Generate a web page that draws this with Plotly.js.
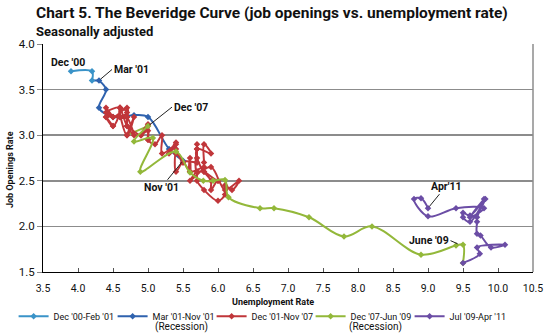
<!DOCTYPE html>
<html>
<head>
<meta charset="utf-8">
<script src="https://cdn.plot.ly/plotly-3.0.1.min.js"></script>
<style>html,body{margin:0;padding:0;background:#fff;}#chart{width:550px;height:336px;}</style>
</head>
<body>
<div id="chart"></div>
<script>
// Series names (legend)
const seriesNames = ["Dec '00-Feb '01", "Mar '01-Nov '01", "Dec '01-Nov '07", "Dec '07-Jun '09", "Jul '09-Apr '11"];
const seriesColors = ["#3A93C8", "#2F62AE", "#C0363A", "#93B83A", "#6B4DA5"];

// Dec '00 - Feb '01
const u1 = [3.9, 4.2, 4.2];
const j1 = [3.7, 3.7, 3.6];

// Mar '01 - Nov '01 (Recession)
const u2 = [4.3, 4.4, 4.3, 4.5, 4.6, 4.8, 5.0, 5.3, 5.5];
const j2 = [3.6, 3.5, 3.3, 3.2, 3.2, 3.22, 3.2, 2.85, 2.72];

// Dec '01 - Nov '07
const u3 = [5.7,
  5.7, 5.7, 5.7, 5.9, 5.8, 5.8, 5.8, 5.7, 5.7, 5.7, 5.9, 6.0,
  5.8, 5.9, 5.9, 6.0, 6.1, 6.3, 6.2, 6.1, 6.1, 6.0, 5.8, 5.7,
  5.7, 5.6, 5.8, 5.6, 5.6, 5.6, 5.5, 5.4, 5.4, 5.5, 5.4, 5.4,
  5.3, 5.4, 5.2, 5.2, 5.1, 5.0, 5.0, 4.9, 5.0, 5.0, 5.0, 4.9,
  4.7, 4.8, 4.7, 4.7, 4.6, 4.6, 4.7, 4.7, 4.5, 4.4, 4.5, 4.4,
  4.6, 4.5, 4.4, 4.5, 4.4, 4.6, 4.7, 4.6, 4.7, 4.8, 4.7];
const j3 = [2.7,
  2.9, 2.7, 2.85, 2.8, 2.9, 2.7, 2.6, 2.75, 2.85, 2.6, 2.65, 2.5,
  2.6, 2.5, 2.4, 2.5, 2.4, 2.5, 2.4, 2.45, 2.35, 2.28, 2.4, 2.5,
  2.6, 2.5, 2.65, 2.6, 2.75, 2.6, 2.7, 2.6, 2.8, 2.7, 2.85, 2.92,
  2.8, 2.9, 2.8, 3.0, 2.9, 2.95, 3.05, 3.0, 3.12, 2.95, 3.1, 3.0,
  3.1, 3.0, 3.2, 3.1, 3.3, 3.2, 3.2, 3.3, 3.2, 3.3, 3.2, 3.25,
  3.3, 3.1, 3.2, 3.1, 3.2, 3.2, 3.25, 3.3, 3.0, 3.2, 3.0];

// Dec '07 - Jun '09 (Recession)
const u4 = [5.0, 4.8, 5.07, 4.89, 5.4, 5.6, 5.79, 5.93, 6.1, 6.15, 6.6, 6.8, 7.3, 7.8, 8.2, 8.9, 9.4, 9.5, 9.5];
const j4 = [3.1, 2.93, 2.97, 2.6, 2.82, 2.59, 2.5, 2.5, 2.51, 2.32, 2.2, 2.2, 2.1, 1.89, 2.0, 1.69, 1.79, 1.8, 1.6];

// Jul '09 - Apr '11
const u5 = [9.5, 9.74, 9.7, 10.1, 9.9, 9.75, 9.7, 9.7, 9.7, 9.82, 9.6, 9.5, 9.5, 9.6, 9.8, 9.6, 9.8, 9.4, 9.0, 8.8, 8.9, 9.0];
const j5 = [1.6, 1.7, 1.77, 1.8, 1.77, 1.9, 1.92, 2.05, 2.1, 2.3, 2.05, 2.1, 2.15, 2.12, 2.3, 2.1, 2.2, 2.2, 2.11, 2.3, 2.31, 2.2];

const xs = [u1, u2, u3, u4, u5];
const ys = [j1, j2, j3, j4, j5];

const FONT = "Roboto, 'Liberation Sans', Arial, sans-serif";

// Connector segments: previous period's last month to this period's first month (drawn underneath).
const connectors = [];
for (let i = 1; i < xs.length; i++) {
  const px = xs[i - 1], py = ys[i - 1];
  connectors.push({
    x: [px[px.length - 1], xs[i][0]], y: [py[py.length - 1], ys[i][0]],
    type: 'scatter', mode: 'lines', showlegend: false, hoverinfo: 'skip',
    line: {color: seriesColors[i], width: 2}
  });
}

const traces = xs.map((x, i) => ({
  x: x, y: ys[i], type: 'scatter', mode: 'lines+markers', name: seriesNames[i],
  line: {color: seriesColors[i], width: 2, shape: 'spline', smoothing: 1},
  marker: {symbol: 'diamond', size: 5, color: seriesColors[i], line: {width: 0}},
  hoverinfo: 'skip'
}));

const annFont = {family: FONT, size: 10.5, color: '#111'};
const axTitleFont = {family: FONT, size: 9, color: '#111'};
const layout = {
  width: 550, height: 336,
  margin: {l: 43, r: 17, t: 44, b: 64, autoexpand: false},
  paper_bgcolor: '#fff', plot_bgcolor: '#fff',
  font: {family: FONT, color: '#111'},
  showlegend: true,
  legend: {orientation: 'h', x: -0.06, xanchor: 'left', y: -0.13, yanchor: 'top',
           font: {family: FONT, size: 9, color: '#111'}, entrywidth: 54, entrywidthmode: 'pixels',
           itemwidth: 30, tracegroupgap: 0, bgcolor: 'rgba(0,0,0,0)'},
  xaxis: {range: [3.5, 10.5], dtick: 0.5, tick0: 3.5, tickformat: '.1f', ticks: 'inside', ticklen: 4,
          tickcolor: '#555', showline: true, linecolor: '#000', linewidth: 1, showgrid: false, zeroline: false,
          ticklabelstandoff: 6,
          tickfont: {family: FONT, size: 10.5, color: '#111'}},
  yaxis: {range: [1.5, 4.0], dtick: 0.5, tick0: 1.5, tickformat: '.1f', ticks: 'outside', ticklen: 5,
          tickcolor: '#888', showline: true, linecolor: '#000', linewidth: 1, showgrid: true,
          gridcolor: '#8c8c8c', gridwidth: 1.5, zeroline: false,
          tickfont: {family: FONT, size: 11.5, color: '#111'}},
  shapes: [{type: 'line', xref: 'paper', yref: 'paper', x0: 1, x1: 1, y0: 0, y1: 1,
            line: {color: '#8c8c8c', width: 1.5}}],
  annotations: [
    {xref: 'paper', yref: 'paper', x: -0.018, y: 1.136, xanchor: 'left', yanchor: 'middle', showarrow: false,
     text: '<b>Chart 5. The Beveridge Curve (job openings vs. unemployment rate)</b>',
     font: {family: FONT, size: 15.5, color: '#111'}},
    {xref: 'paper', yref: 'paper', x: -0.018, y: 1.057, xanchor: 'left', yanchor: 'middle', showarrow: false,
     text: '<b>Seasonally adjusted</b>', font: {family: FONT, size: 13, color: '#111'}},
    // axis titles
    {xref: 'paper', yref: 'paper', x: (273 - 43) / 490, y: (272 - 302) / 228, xanchor: 'center', yanchor: 'middle',
     showarrow: false, text: '<b>Unemployment Rate</b>', font: axTitleFont},
    {xref: 'paper', yref: 'paper', x: (10 - 43) / 490, y: (272 - 170) / 228, xanchor: 'center', yanchor: 'middle',
     showarrow: false, textangle: -90, text: '<b>Job Openings Rate</b>', font: axTitleFont},
    // point labels
    {xref: 'x', yref: 'y', x: 3.86, y: 3.80, showarrow: false, text: "<b>Dec '00</b>", font: annFont},
    {xref: 'x', yref: 'y', x: 4.3, y: 3.6, ax: 13, ay: -11, showarrow: true, arrowhead: 0, arrowwidth: 1,
     arrowcolor: '#222', standoff: 2, text: "<b>Mar '01</b>", font: annFont, xanchor: 'left'},
    {xref: 'x', yref: 'y', x: 5.0, y: 3.1, ax: 24, ay: -19, showarrow: true, arrowhead: 0, arrowwidth: 1,
     arrowcolor: '#222', standoff: 2, text: "<b>Dec '07</b>", font: annFont, xanchor: 'left'},
    {xref: 'x', yref: 'y', x: 5.5, y: 2.72, ax: -22, ay: 27, showarrow: true, arrowhead: 0, arrowwidth: 1,
     arrowcolor: '#222', standoff: 2, text: "<b>Nov '01</b>", font: annFont},
    {xref: 'x', yref: 'y', x: 9.0, y: 2.2, ax: 18, ay: -22, showarrow: true, arrowhead: 0, arrowwidth: 1,
     arrowcolor: '#222', standoff: 2, text: "<b>Apr'11</b>", font: annFont},
    {xref: 'x', yref: 'y', x: 9.45, y: 1.8, ax: -9, ay: -4, showarrow: true, arrowhead: 0, arrowwidth: 1,
     arrowcolor: '#222', standoff: 2, text: "<b>June '09</b>", font: annFont, xanchor: 'right'},
    {xref: 'paper', yref: 'paper', x: (181 - 43) / 490, y: (272 - 327) / 228, xanchor: 'center', yanchor: 'middle',
     showarrow: false, text: '(Recession)', font: {family: FONT, size: 10, color: '#111'}},
    {xref: 'paper', yref: 'paper', x: (375 - 43) / 490, y: (272 - 327) / 228, xanchor: 'center', yanchor: 'middle',
     showarrow: false, text: '(Recession)', font: {family: FONT, size: 10, color: '#111'}}
  ]
};

Plotly.newPlot('chart', connectors.concat(traces), layout, {displayModeBar: false, staticPlot: true});
</script>
</body>
</html>
